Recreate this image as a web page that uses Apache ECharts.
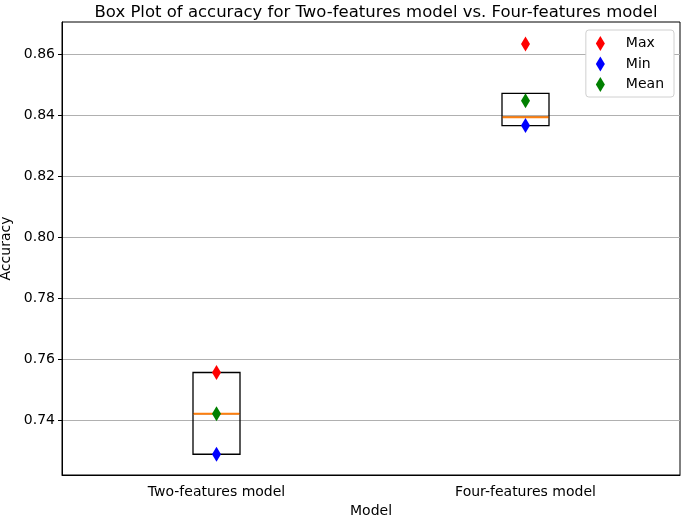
<!DOCTYPE html>
<html><head><meta charset="utf-8">
<script src="https://cdn.jsdelivr.net/npm/echarts@6/dist/echarts.min.js"></script>
<style>html,body{margin:0;padding:0;background:#fff}#c{width:682px;height:515px}</style>
</head><body><div id="c"></div>
<script>
const categories = ["Two-features model", "Four-features model"];
// [min, Q1, median, Q3, upper whisker]
const boxStats = [
  [0.7289, 0.7289, 0.7422, 0.7557, 0.7557],
  [0.8366, 0.8366, 0.8394, 0.8472, 0.8472]
];
const medians = [0.7422, 0.8394];
const maxValues = [0.7557, 0.8634];
const minValues = [0.7289, 0.8367];
const meanValues = [0.7422, 0.8448];
const yTicks = [0.74, 0.76, 0.78, 0.80, 0.82, 0.84, 0.86];

const font = "DejaVu Sans";
const chart = echarts.init(document.getElementById('c'));
const diamond = [9, 15];
chart.setOption({
  animation: false,
  backgroundColor: '#fff',
  title: {
    text: 'Box Plot of accuracy for Two-features model vs. Four-features model',
    left: 371, textAlign: 'center', top: -1,
    textStyle: {fontFamily: font, fontSize: 16.5, fontWeight: 'normal', color: '#000'}
  },
  legend: {
    orient: 'vertical', right: 8, top: 30,
    data: ['Max', 'Min', 'Mean'],
    icon: 'diamond', itemWidth: 9, itemHeight: 15, itemGap: 5.5,
    backgroundColor: '#fff', borderColor: '#d0d0d0', borderWidth: 1, borderRadius: 3,
    padding: [6, 10, 5, 10],
    textStyle: {fontFamily: font, fontSize: 14, color: '#000', padding: [0, 0, 0, 16]}
  },
  grid: {left: 62, right: 2, top: 22, bottom: 40, outerBoundsMode: 'none', containLabel: false,
    show: true, borderColor: '#000', borderWidth: 1, backgroundColor: 'transparent'},
  xAxis: {
    type: 'category', data: categories, boundaryGap: true,
    name: 'Model', nameLocation: 'middle', nameGap: 25,
    nameTextStyle: {fontFamily: font, fontSize: 14, color: '#000'},
    axisLine: {lineStyle: {color: '#000'}},
    axisTick: {alignWithLabel: true, length: 4, lineStyle: {color: '#000'}},
    axisLabel: {fontFamily: font, fontSize: 14, color: '#000', margin: 10},
    splitLine: {show: false}
  },
  yAxis: {
    type: 'value', min: 0.7221, max: 0.8706,
    name: 'Accuracy', nameLocation: 'middle', nameGap: 44,
    nameTextStyle: {fontFamily: font, fontSize: 14, color: '#000'},
    axisLine: {show: true, lineStyle: {color: '#000'}},
    axisTick: {show: true, length: 4, customValues: yTicks, lineStyle: {color: '#000'}},
    axisLabel: {fontFamily: font, fontSize: 14, color: '#000', margin: 7, customValues: yTicks,
      formatter: v => v.toFixed(2)},
    splitLine: {show: true, lineStyle: {color: '#b0b0b0', width: 1}}
  },
  series: [
    {
      type: 'boxplot', data: boxStats, boxWidth: [47, 47],
      itemStyle: {color: 'transparent', borderColor: '#000', borderWidth: 1.3},
      z: 2
    },
    {
      type: 'scatter', data: medians.map((v, i) => [i, v]),
      symbol: 'rect', symbolSize: [46, 2], itemStyle: {color: '#ff7f0e', opacity: 1}, z: 3
    },
    {name: 'Max', type: 'scatter', data: maxValues.map((v, i) => [i, v]), symbol: 'diamond', symbolSize: diamond, itemStyle: {color: '#ff0000', opacity: 1}, z: 4},
    {name: 'Min', type: 'scatter', data: minValues.map((v, i) => [i, v]), symbol: 'diamond', symbolSize: diamond, itemStyle: {color: '#0000ff', opacity: 1}, z: 4},
    {name: 'Mean', type: 'scatter', data: meanValues.map((v, i) => [i, v]), symbol: 'diamond', symbolSize: diamond, itemStyle: {color: '#008000', opacity: 1}, z: 4}
  ]
});
</script></body></html>
